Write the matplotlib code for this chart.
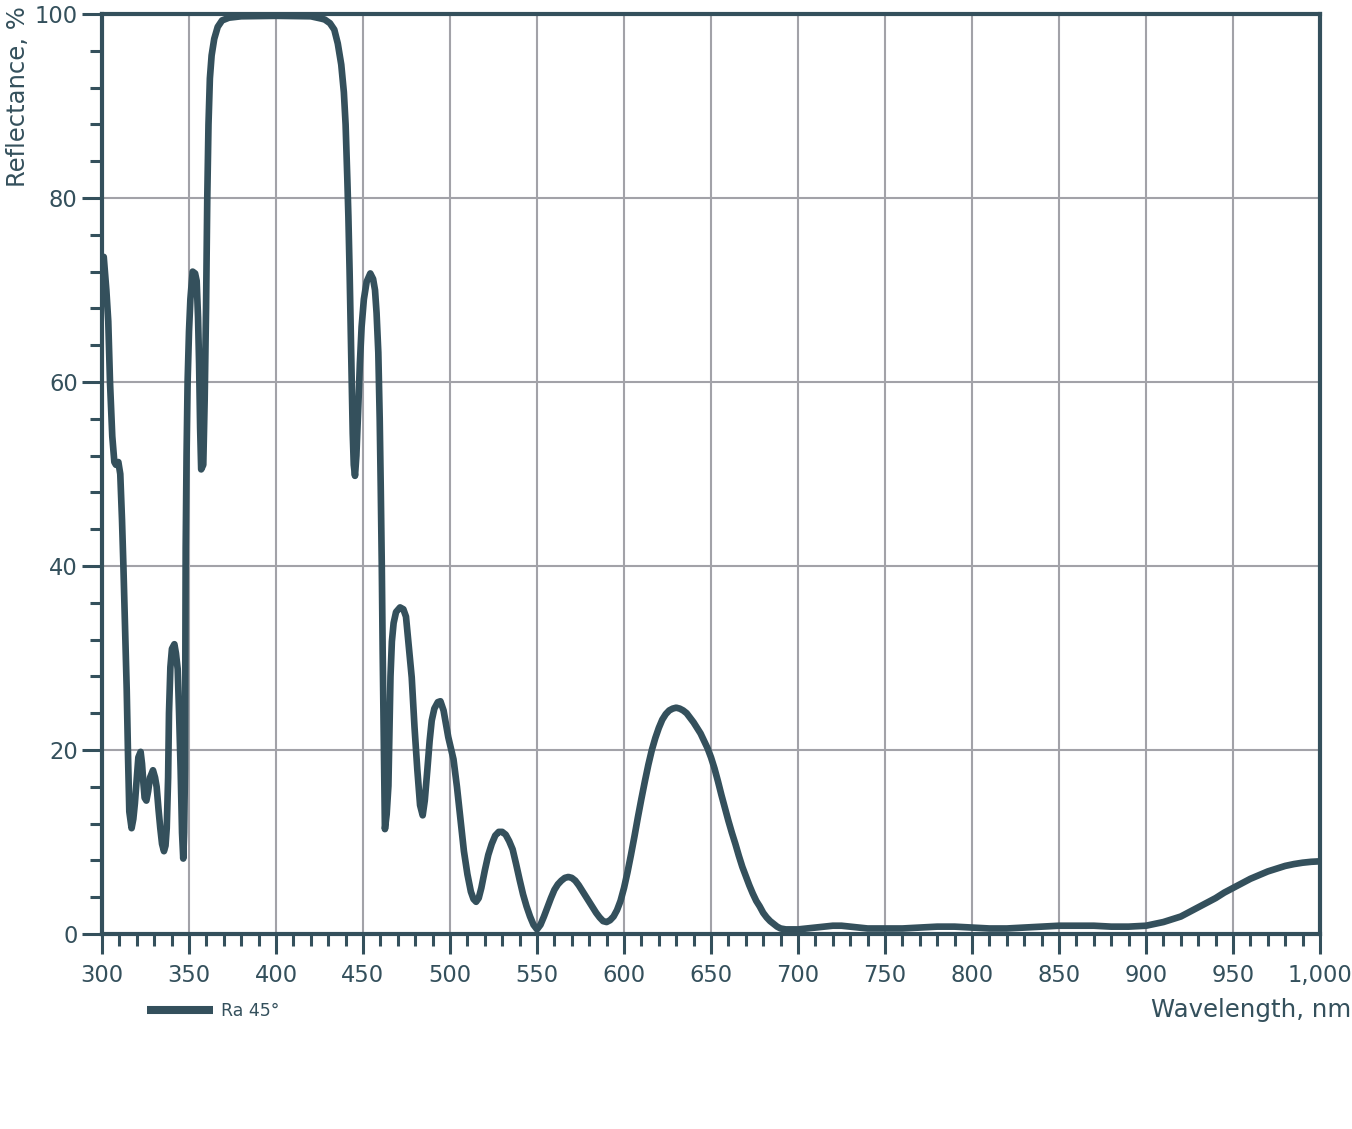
import numpy as np
import matplotlib
matplotlib.use('Agg')
import matplotlib.pyplot as plt
from matplotlib.ticker import MultipleLocator, FuncFormatter

# data
wavelength = [300, 301, 302.5, 303.6, 304.6, 305.9, 307.1, 308, 309.4, 310.5, 311.5, 312.3, 313.3, 314.2, 315,
              315.7, 317, 318, 318.9, 320, 320.9, 322.2, 323, 323.8, 324.5, 325.5, 326.5, 327.6, 329.3, 330.5,
              331.4, 332.5, 333.5, 334.5, 335.6, 336.5, 337.2, 338, 338.5, 339.3, 340.2, 341.6, 342.5, 343.5,
              344.3, 345.2, 346, 346.7, 347.2, 347.7, 348.1, 348.6, 349.2, 350, 350.8, 352.1, 353.5, 354.4,
              355.2, 355.8, 356.4, 357, 358.2, 359, 359.8, 360.5, 361.2, 362, 363, 364.5, 366.5, 369, 373,
              380, 400, 420, 426, 428, 431, 433.5, 435.5, 437.5, 439, 440, 441, 441.6, 442.3, 442.9, 443.5,
              444.1, 444.7, 445.4, 446.2, 447.3, 448.2, 449.2, 450.5, 452.1, 454.2, 455.8, 456.9, 457.8, 458.8,
              459.6, 460.2, 460.8, 461.3, 462, 462.6, 463.6, 464.6, 465.2, 465.8, 466.6, 467.6, 469, 471.3,
              473.2, 474.7, 476.2, 478, 479.6, 481.2, 482.8, 484.3, 485.5, 487, 488.3, 489.5, 491, 493, 494.5,
              496.3, 498, 499, 502, 504, 506, 508, 510, 512, 513.5, 515, 516.5, 518, 520, 522, 524, 526, 528,
              530, 532, 534, 536, 538, 540, 542, 544, 546, 548, 550, 552, 554, 556, 558, 560, 562, 564, 566,
              568, 570, 572, 574, 576, 578, 580, 582, 584, 586, 588, 590, 592, 594, 596, 598, 600, 602, 604,
              606, 608, 610, 612, 614, 616, 618, 620, 622, 624, 626, 628, 630, 632, 634, 636, 638, 640, 642,
              644, 646, 648, 650, 652, 654, 656, 658, 660, 662, 664, 666, 668, 670, 672, 674, 676, 678, 680,
              682, 684, 686, 688, 690, 693, 697, 700, 705, 710, 715, 720, 725, 730, 740, 750, 760, 770, 780,
              790, 800, 810, 820, 830, 840, 850, 860, 870, 880, 890, 900, 905, 910, 915, 920, 925, 930, 935,
              940, 945, 950, 955, 960, 965, 970, 975, 980, 985, 990, 995, 1000]
reflectance = [72.5, 73.6, 70, 66.6, 60, 54.1, 51.3, 51.0, 51.3, 50, 45, 40, 33, 26.6, 19,
               13.3, 11.5, 12.5, 14.2, 17, 19.2, 19.8, 18.5, 16.4, 14.8, 14.5, 15.5, 17.0, 17.8, 17.0,
               16.0, 13.5, 11.5, 9.8, 9.0, 9.6, 11.5, 17, 24, 29, 31.0, 31.5, 30.5, 28.8,
               24, 17.8, 11, 8.2, 11, 18, 42, 52, 60, 65.5, 69, 72.0, 71.8, 71.0,
               67, 62, 55, 50.5, 51.0, 58, 68, 80, 88, 93, 95.5, 97.3, 98.6, 99.3, 99.6,
               99.75, 99.8, 99.75, 99.5, 99.4, 99.0, 98.3, 96.8, 94.5, 91.5, 88, 82, 78, 72, 66, 60,
               54.4, 51, 49.8, 52, 57.3, 62, 66, 69, 70.9, 71.8, 71.2, 70.0, 67.5, 63.2,
               56, 48.5, 40, 30.8, 20, 11.4, 13, 16.1, 22, 28, 31.8, 33.8, 35, 35.5,
               35.3, 34.5, 31.5, 27.9, 22.5, 17.9, 14, 12.9, 14.5, 17.9, 21, 23.2, 24.5, 25.2, 25.3,
               24.3, 22.5, 21.4, 19.0, 16, 12.5, 9.0, 6.5, 4.6, 3.8, 3.5, 3.9, 5.0, 6.9, 8.6, 9.8, 10.7, 11.1,
               11.1, 10.8, 10.1, 9.2, 7.6, 5.9, 4.3, 3.0, 1.9, 1.0, 0.5, 1.0, 1.9, 2.9, 3.9, 4.8, 5.4, 5.8, 6.1,
               6.2, 6.1, 5.8, 5.3, 4.7, 4.1, 3.5, 2.9, 2.3, 1.8, 1.4, 1.3, 1.5, 1.9, 2.6, 3.6, 5.0, 6.7, 8.6,
               10.6, 12.7, 14.7, 16.6, 18.4, 20.0, 21.3, 22.4, 23.3, 23.9, 24.3, 24.5, 24.6, 24.5, 24.3, 24.0, 23.5, 23.0, 22.4,
               21.8, 21.0, 20.2, 19.2, 18.0, 16.6, 15.1, 13.7, 12.3, 11.0, 9.8, 8.5, 7.3, 6.3, 5.3, 4.4, 3.6, 3.0, 2.3,
               1.8, 1.4, 1.1, 0.8, 0.6, 0.5, 0.5, 0.5, 0.6, 0.7, 0.8, 0.9, 0.9, 0.8, 0.6, 0.6, 0.6, 0.7, 0.8,
               0.8, 0.7, 0.6, 0.6, 0.7, 0.8, 0.9, 0.9, 0.9, 0.8, 0.8, 0.9, 1.1, 1.3, 1.6, 1.9, 2.4, 2.9, 3.4,
               3.9, 4.5, 5.0, 5.5, 6.0, 6.4, 6.8, 7.1, 7.4, 7.6, 7.75, 7.85, 7.9]
series_name = 'Ra 45°'

dark = '#34505c'
grid_col = '#a2a2a8'

fig = plt.figure(figsize=(13.52, 11.29), dpi=100)
ax = fig.add_axes([102/1352, 195/1129, 1218/1352, 920/1129])

ax.plot(wavelength, reflectance, color=dark, lw=4.8, solid_joinstyle='round',
        solid_capstyle='round', label=series_name, zorder=3)

ax.set_xlim(300, 1000)
ax.set_ylim(0, 100)
ax.xaxis.set_major_locator(MultipleLocator(50))
ax.xaxis.set_minor_locator(MultipleLocator(10))
ax.yaxis.set_major_locator(MultipleLocator(20))
ax.yaxis.set_minor_locator(MultipleLocator(4))
ax.xaxis.set_major_formatter(FuncFormatter(lambda v, p: f'{v:,.0f}'))

ax.grid(True, which='major', color=grid_col, lw=1.5, zorder=0)
ax.set_axisbelow(True)

for s in ax.spines.values():
    s.set_color(dark)
    s.set_linewidth(3)

ax.tick_params(which='major', direction='out', length=14.5, width=2.2, color=dark,
               labelcolor=dark, labelsize=16.3)
ax.tick_params(axis='x', which='major', pad=7)
ax.tick_params(axis='y', which='major', pad=3)
ax.tick_params(which='minor', direction='out', length=8.6, width=2.2, color=dark)

fig.text(18/1352, 1 - 187/1129, 'Reflectance, %', rotation=90, ha='center', va='bottom',
         color=dark, fontsize=17.5)
fig.text(1351/1352, 1 - 1010/1129, 'Wavelength, nm', ha='right', va='center',
         color=dark, fontsize=17.6)

leg = ax.legend(loc='center left', bbox_to_anchor=(147/1352, 1 - 1011/1129),
                bbox_transform=fig.transFigure, frameon=False, borderpad=0, borderaxespad=0,
                handlelength=3.8, handletextpad=0.45, fontsize=12.5)
for t in leg.get_texts():
    t.set_color(dark)
leg.get_lines()[0].set_linewidth(5.8)
leg.get_lines()[0].set_solid_capstyle('butt')

fig.savefig('out.png', dpi=100)
